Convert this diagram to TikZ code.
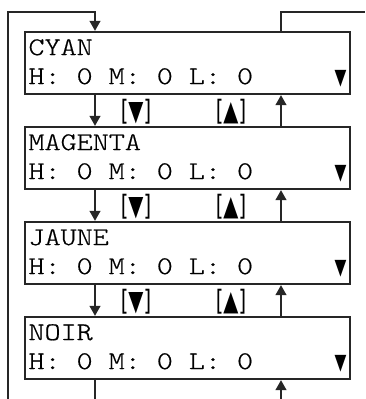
\documentclass[tikz,border=0pt]{standalone}
\usepackage{fontspec}
\setmainfont{DejaVu Sans}
\newfontfamily\lcdfont{lmmonolt10-regular.otf}[FakeStretch=1.2, FakeBold=0.6]
\newfontfamily\symfont{DejaVu Sans}[FakeStretch=0.7]
\usetikzlibrary{arrows.meta}
\newcommand{\lcdfontsel}{\lcdfont\fontsize{25.5}{29}\selectfont
    \fontdimen2\font=16pt\fontdimen3\font=0pt\fontdimen4\font=0pt}
\newcommand{\dnmark}{\hfill{\symfont\fontsize{22}{22}\selectfont ▼}\hspace*{4pt}}
\tikzstyle{display} = [
    rectangle,
    draw=black!85,
    line width=2.4pt,
    minimum width=325pt,
    minimum height=62pt,
    text width=318pt,
    inner xsep=3.5pt,
    align=left,
    font=\lcdfontsel,
    execute at begin node={\spaceskip=0pt\xspaceskip=0pt}
]
\tikzstyle{keylabel} = [
    font=\symfont\fontsize{28}{30}\selectfont,
    inner sep=0pt
]
\tikzstyle{arrow} = [line width=1.2pt, draw=black!85, -{Triangle[width=11pt,length=10pt]}]
\tikzstyle{line} = [line width=1.2pt, draw=black!85]

\begin{document}
\begin{tikzpicture}[x=1pt, y=1pt, node distance=95pt]
\useasboundingbox (0,0) rectangle (365,399);

\node (cyan) [display] at (187.5,336)
{CYAN\\H: 0 M: 0 L: 0\dnmark};

\node (magenta) [display, below of=cyan]
{MAGENTA\\H: 0 M: 0 L: 0\dnmark};

\node (jaune) [display, below of=magenta]
{JAUNE\\H: 0 M: 0 L: 0\dnmark};

\node (noir) [display, below of=jaune]
{NOIR\\H: 0 M: 0 L: 0\dnmark};

% key labels between the displays
\node (dn1) [keylabel] at ([xshift=-51.5pt, yshift=-16.5pt]cyan.south) {[▼]};
\node (up1) [keylabel] at ([xshift=43.5pt, yshift=-16.5pt]cyan.south) {[▲]};
\node (dn2) [keylabel] at ([xshift=-51.5pt, yshift=-16.5pt]magenta.south) {[▼]};
\node (up2) [keylabel] at ([xshift=43.5pt, yshift=-16.5pt]magenta.south) {[▲]};
\node (dn3) [keylabel] at ([xshift=-51.5pt, yshift=-16.5pt]jaune.south) {[▼]};
\node (up3) [keylabel] at ([xshift=43.5pt, yshift=-16.5pt]jaune.south) {[▲]};

\draw [arrow] ([xshift=-92.5pt]cyan.south) -- ([xshift=-92.5pt]magenta.north);
\draw [arrow] ([xshift=-92.5pt]magenta.south) -- ([xshift=-92.5pt]jaune.north);
\draw [arrow] ([xshift=-92.5pt]jaune.south) -- ([xshift=-92.5pt]noir.north);
\draw [arrow] ([xshift=93.5pt]magenta.north) -- ([xshift=93.5pt]cyan.south);
\draw [arrow] ([xshift=93.5pt]jaune.north) -- ([xshift=93.5pt]magenta.south);
\draw [arrow] ([xshift=93.5pt]noir.north) -- ([xshift=93.5pt]jaune.south);

% loops running off the edges
\coordinate (outL) at (95,0);
\coordinate (inL) at (8,0);
\coordinate (inR) at (281,0);
\coordinate (outR) at (365,387);
\draw [line] ([xshift=-92.5pt]noir.south) -- (outL);
\draw [arrow] (inL) |- (95,387) -- ([xshift=-92.5pt]cyan.north);
\draw [arrow] (inR) -- ([xshift=93.5pt]noir.south);
\draw [line] ([xshift=93.5pt]cyan.north) |- (outR);

\end{tikzpicture}
\end{document}
